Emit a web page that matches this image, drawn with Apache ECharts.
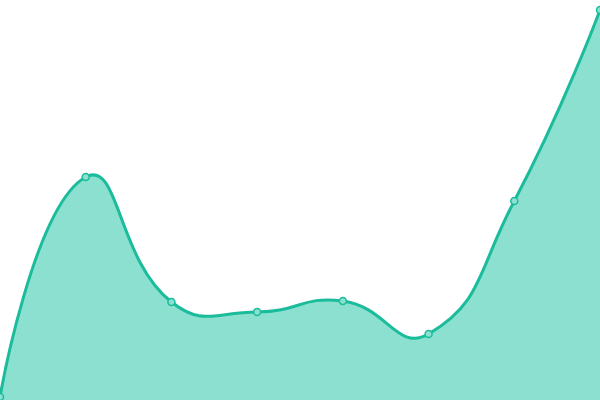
<!DOCTYPE html>
<html><head><meta charset="utf-8">
<script src="https://cdn.jsdelivr.net/npm/echarts@6/dist/echarts.min.js"></script>
<style>html,body{margin:0;padding:0;background:#fff}#c{width:600px;height:400px}</style>
</head><body><div id="c"></div>
<script>
const categories = ['1','2','3','4','5','6','7','8'];
const values = [3, 223, 98, 88, 99, 66, 199, 390];

const LINE_COLOR = '#1bbc9b';
const AREA_COLOR = '#8be0cf';
const SMOOTH = 0.5;

// Classic (cardinal-like) bezier smoothing, computed on pixel coords from the axes
function smoothPath(pts) {
  let minX = Infinity, minY = Infinity, maxX = -Infinity, maxY = -Infinity;
  pts.forEach(p => { minX = Math.min(minX, p[0]); maxX = Math.max(maxX, p[0]); minY = Math.min(minY, p[1]); maxY = Math.max(maxY, p[1]); });
  const clamp = (p) => [Math.min(Math.max(p[0], minX), maxX), Math.min(Math.max(p[1], minY), maxY)];
  let d = 'M' + pts[0][0] + ' ' + pts[0][1];
  let cp0 = pts[0].slice();
  for (let i = 1; i < pts.length; i++) {
    const p = pts[i], prev = pts[i - 1], next = pts[i + 1];
    let nextCp0, ratio = 0.5, v = [0, 0];
    if (!next) {
      nextCp0 = p.slice();
    } else {
      v = [next[0] - prev[0], next[1] - prev[1]];
      const lp = Math.hypot(p[0] - prev[0], p[1] - prev[1]);
      const ln = Math.hypot(next[0] - p[0], next[1] - p[1]);
      ratio = ln / (ln + lp);
      nextCp0 = [p[0] - v[0] * SMOOTH * (1 - ratio), p[1] - v[1] * SMOOTH * (1 - ratio)];
    }
    const a = clamp(cp0), b = clamp(nextCp0);
    d += ' C' + a[0] + ' ' + a[1] + ' ' + b[0] + ' ' + b[1] + ' ' + p[0] + ' ' + p[1];
    cp0 = [p[0] + v[0] * SMOOTH * ratio, p[1] + v[1] * SMOOTH * ratio];
  }
  return d;
}

const chart = echarts.init(document.getElementById('c'));
chart.setOption({
  animation: false,
  grid: {left: 0, right: 0, top: 0, bottom: 0},
  xAxis: {type: 'category', data: categories, boundaryGap: false, show: false},
  yAxis: {type: 'value', min: 0, max: 400, show: false},
  series: [{
    type: 'custom',
    data: values.map((v, i) => [i, v]),
    encode: {x: 0, y: 1},
    clip: false,
    renderItem: function (params, api) {
      if (params.dataIndex !== 0) return null;
      const pts = [];
      for (let i = 0; i < values.length; i++) {
        pts.push(api.coord([api.value(0, i), api.value(1, i)]));
      }
      const base0 = api.coord([api.value(0, 0), 0]);
      const base1 = api.coord([api.value(0, values.length - 1), 0]);
      const top = smoothPath(pts);
      const area = top + ' L' + base1[0] + ' ' + base1[1] + ' L' + base0[0] + ' ' + base0[1] + ' Z';
      return {
        type: 'group',
        children: [
          {type: 'path', shape: {pathData: area}, style: {fill: AREA_COLOR, stroke: null}},
          {type: 'path', shape: {pathData: top}, style: {fill: null, stroke: LINE_COLOR, lineWidth: 3, lineJoin: 'round'}}
        ]
      };
    }
  }, {
    type: 'line',
    data: values,
    symbol: 'circle',
    symbolSize: 7,
    showAllSymbol: true,
    lineStyle: {width: 0, opacity: 0},
    itemStyle: {color: AREA_COLOR, borderColor: LINE_COLOR, borderWidth: 1.5},
    z: 5
  }]
});
</script></body></html>
